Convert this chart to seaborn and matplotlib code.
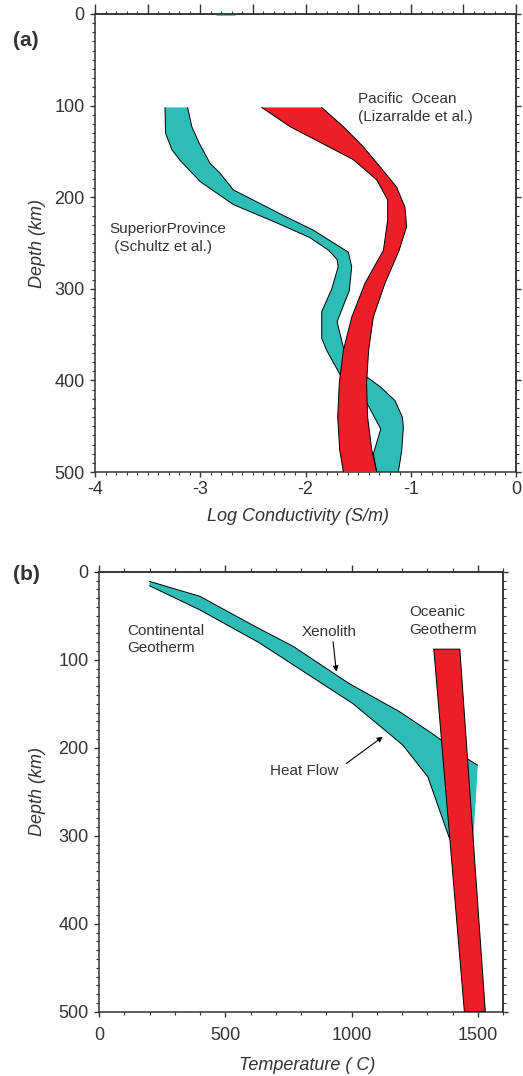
import matplotlib
matplotlib.use("Agg")
import matplotlib.pyplot as plt
import numpy as np
import pandas as pd
import seaborn as sns
from matplotlib.ticker import MultipleLocator

# ---------------- Panel (a): log conductivity vs depth ----------------
sup_left_depth = [102, 130, 148, 160, 183, 208, 228, 244, 258, 268, 276, 300, 325, 354, 367, 394,
                  424, 453, 480, 500]
sup_left_logc = [-3.335, -3.33, -3.27, -3.19, -3.0, -2.686, -2.274, -1.96, -1.78, -1.70, -1.69,
                 -1.75, -1.846, -1.846, -1.80, -1.67, -1.42, -1.285, -1.355, -1.324]
sup_right_depth = [102, 123, 141, 163, 174, 192, 220, 236, 260, 276, 302, 336, 364, 396, 407,
                   422, 440, 451, 477, 500]
sup_right_logc = [-3.12, -3.08, -3.01, -2.907, -2.81, -2.686, -2.21, -1.926, -1.593, -1.561,
                  -1.584, -1.70, -1.64, -1.42, -1.29, -1.15, -1.08, -1.07, -1.086, -1.118]
sup_top_depth = [1, 1]
sup_top_logc = [-2.84, -2.67]

pac_left_depth = [102, 123, 141, 159, 181, 203, 225, 258, 294, 331, 367, 403, 440, 476, 500]
pac_left_logc = [-2.416, -2.147, -1.846, -1.546, -1.324, -1.219, -1.219, -1.26, -1.435, -1.561,
                 -1.64, -1.679, -1.694, -1.675, -1.64]
pac_right_depth = [102, 123, 145, 167, 189, 211, 232, 258, 294, 331, 367, 403, 440, 476, 500]
pac_right_logc = [-1.846, -1.64, -1.45, -1.29, -1.134, -1.055, -1.039, -1.11, -1.245, -1.356,
                  -1.40, -1.42, -1.41, -1.37, -1.324]

# ---------------- Panel (b): temperature vs depth ----------------
xeno_temp = [200, 400, 610, 770, 990, 1190, 1320, 1455, 1500]
xeno_depth = [11, 28, 61, 85, 127, 159, 184, 212, 220]
cont_right_temp = [1492, 1482]
cont_right_depth = [260, 305]
heat_temp = [200, 400, 636, 1006, 1203, 1302, 1388]
heat_depth = [16, 43.5, 81, 150, 197, 233, 303]

ocean_left_temp = [1326, 1447]
ocean_right_temp = [1429, 1530]
ocean_depth = [88, 500]

TEAL = "#2EBDB6"
RED = "#EC1F28"
GREY = "#333333"

sns.set_theme(style="ticks")
plt.rcParams["font.family"] = ["Liberation Sans", "DejaVu Sans"]
plt.rcParams["axes.unicode_minus"] = False
plt.rcParams["axes.edgecolor"] = GREY
plt.rcParams["axes.linewidth"] = 1.1

fig = plt.figure(figsize=(5.23, 10.76), dpi=100)
W, H = 523.0, 1076.0
ax_a = fig.add_axes([95 / W, 1 - 472 / H, (516 - 95) / W, (472 - 14) / H])
ax_b = fig.add_axes([99 / W, 1 - 1011.7 / H, (503 - 99) / W, 440 / H])


def outline(ax, xs, ys, z):
    df = pd.DataFrame({"x": list(xs), "y": list(ys)})
    sns.lineplot(data=df, x="x", y="y", sort=False, estimator=None, color="black",
                 lw=0.7, ax=ax, zorder=z)


def band(ax, x_fwd, y_fwd, x_back, y_back, color, z, full=False):
    xs = list(x_fwd) + list(x_back)[::-1]
    ys = list(y_fwd) + list(y_back)[::-1]
    ax.fill(xs, ys, color=color, lw=0, zorder=z)
    if full:
        outline(ax, xs + [xs[0]], ys + [ys[0]], z + 0.1)
    else:
        outline(ax, x_fwd, y_fwd, z + 0.1)
        outline(ax, x_back, y_back, z + 0.1)


# ---- panel a ----
band(ax_a, sup_left_logc, sup_left_depth, sup_right_logc, sup_right_depth, TEAL, 2)
band(ax_a, pac_left_logc, pac_left_depth, pac_right_logc, pac_right_depth, RED, 3)
sns.lineplot(x=sup_top_logc, y=sup_top_depth, color=TEAL, lw=1.2, ax=ax_a, zorder=2)

ax_a.set_xlim(-4, 0)
ax_a.set_ylim(500, 0)
ax_a.xaxis.set_minor_locator(MultipleLocator(0.1))
ax_a.yaxis.set_major_locator(MultipleLocator(100))
ax_a.yaxis.set_minor_locator(MultipleLocator(10))
ax_a.set_xticks([-4, -3, -2, -1, 0])
ax_a.set_xticklabels(["-4", "-3", "-2", "-1", "0"])

# ---- panel b ----
band(ax_b, xeno_temp, xeno_depth, heat_temp, heat_depth, TEAL, 2)
# close the teal area on its right side (hidden mostly under the red band)
ax_b.fill(xeno_temp[-1:] + cont_right_temp + heat_temp[-1:] + heat_temp[-2:-1] + xeno_temp[-3:-1],
          xeno_depth[-1:] + cont_right_depth + heat_depth[-1:] + heat_depth[-2:-1] + xeno_depth[-3:-1],
          color=TEAL, lw=0, zorder=1.9)
band(ax_b, ocean_left_temp, ocean_depth, ocean_right_temp, ocean_depth, RED, 3, full=True)
ax_b.set_xlim(0, 1600)
ax_b.set_ylim(500, 0)
ax_b.xaxis.set_major_locator(MultipleLocator(500))
ax_b.xaxis.set_minor_locator(MultipleLocator(100))
ax_b.yaxis.set_major_locator(MultipleLocator(100))
ax_b.yaxis.set_minor_locator(MultipleLocator(10))

PX = 0.72
for ax, bpad in ((ax_a, 3.2), (ax_b, 7.5)):
    for s in ax.spines.values():
        s.set_visible(True)
        s.set_color(GREY)
        s.set_linewidth(1.1)
    ax.tick_params(axis="both", which="major", direction="out", color=GREY, width=1.0,
                   length=5 * PX, labelsize=13, labelcolor=GREY)
    ax.tick_params(axis="y", which="minor", direction="out", color=GREY, width=0.8, length=2.8 * PX)
    ax.tick_params(axis="x", which="minor", direction="out", color=GREY, width=0.8, length=3 * PX)
    ax.tick_params(axis="y", which="major", pad=3.8)
    ax.tick_params(axis="x", which="major", pad=bpad)
    ax.set_ylabel("Depth (km)", fontsize=13, style="italic", color=GREY)
    ax.yaxis.set_label_coords(-0.117 if ax is ax_a else -0.130, 0.5)
    ax.grid(False)

# top/right decorative tick axes
top_a = ax_a.secondary_xaxis("top")
top_a.xaxis.set_major_locator(MultipleLocator(0.5))
top_a.xaxis.set_minor_locator(MultipleLocator(0.1))
top_a.tick_params(which="major", direction="out", length=10 * PX, width=1.0, color=GREY,
                  labeltop=False, labelbottom=False)
top_a.tick_params(which="minor", direction="out", length=3 * PX, width=0.8, color=GREY)
right_a = ax_a.secondary_yaxis("right")
right_a.yaxis.set_major_locator(MultipleLocator(100))
right_a.yaxis.set_minor_locator(MultipleLocator(10))
right_a.tick_params(which="major", direction="out", length=5 * PX, width=1.0, color=GREY,
                    labelright=False, labelleft=False)
right_a.tick_params(which="minor", direction="out", length=3 * PX, width=0.8, color=GREY)

top_b = ax_b.secondary_xaxis("top")
top_b.xaxis.set_major_locator(MultipleLocator(500))
top_b.xaxis.set_minor_locator(MultipleLocator(100))
top_b.tick_params(which="major", direction="out", length=7 * PX, width=1.0, color=GREY,
                  labeltop=False, labelbottom=False)
top_b.tick_params(which="minor", direction="out", length=4 * PX, width=0.8, color=GREY)
right_b = ax_b.secondary_yaxis("right")
right_b.yaxis.set_major_locator(MultipleLocator(100))
right_b.yaxis.set_minor_locator(MultipleLocator(10))
right_b.tick_params(which="major", direction="out", length=5 * PX, width=1.0, color=GREY,
                    labelright=False, labelleft=False)
right_b.tick_params(which="minor", direction="out", length=3 * PX, width=0.8, color=GREY)
for sec in (top_a, right_a, top_b, right_b):
    for s in sec.spines.values():
        s.set_color(GREY)
        s.set_linewidth(1.1)

# axis labels
ax_a.set_xlabel("Log Conductivity (S/m)", fontsize=13, style="italic", color=GREY, labelpad=7)
ax_a.xaxis.label.set_x(0.482)
ax_b.set_xlabel("Temperature ( C)", fontsize=13, style="italic", color=GREY, labelpad=9)
ax_b.xaxis.label.set_x(0.515)

# annotations panel a
ann = dict(fontsize=11, color=GREY, ha="left", va="center", linespacing=1.35)
ax_a.text(-1.498, 102.5, "Pacific  Ocean\n(Lizarralde et al.)", **ann)
ax_a.text(-3.86, 245, "SuperiorProvince\n (Schultz et al.)", **ann)

# annotations panel b
ax_b.text(113, 77, "Continental\nGeotherm", **ann)
ax_b.text(1227, 56.5, "Oceanic\nGeotherm", **ann)
ax_b.text(910, 68, "Xenolith", fontsize=11, color=GREY, ha="center", va="center")
ax_b.text(813, 227, "Heat Flow", fontsize=11, color=GREY, ha="center", va="center")
arrow = dict(arrowstyle="-|>", color="black", lw=0.8, shrinkA=0, shrinkB=0, mutation_scale=8)
ax_b.annotate("", xy=(940, 113.6), xytext=(927, 79.5), arrowprops=arrow)
ax_b.annotate("", xy=(1124, 187.5), xytext=(979, 218), arrowprops=arrow)

# panel letters
fig.text(26 / W, 1 - 40 / H, "(a)", fontsize=15, fontweight="bold", color=GREY,
         ha="center", va="center")
fig.text(26 / W, 1 - 575 / H, "(b)", fontsize=15, fontweight="bold", color=GREY,
         ha="center", va="center")

fig.savefig("out.png", dpi=100)
